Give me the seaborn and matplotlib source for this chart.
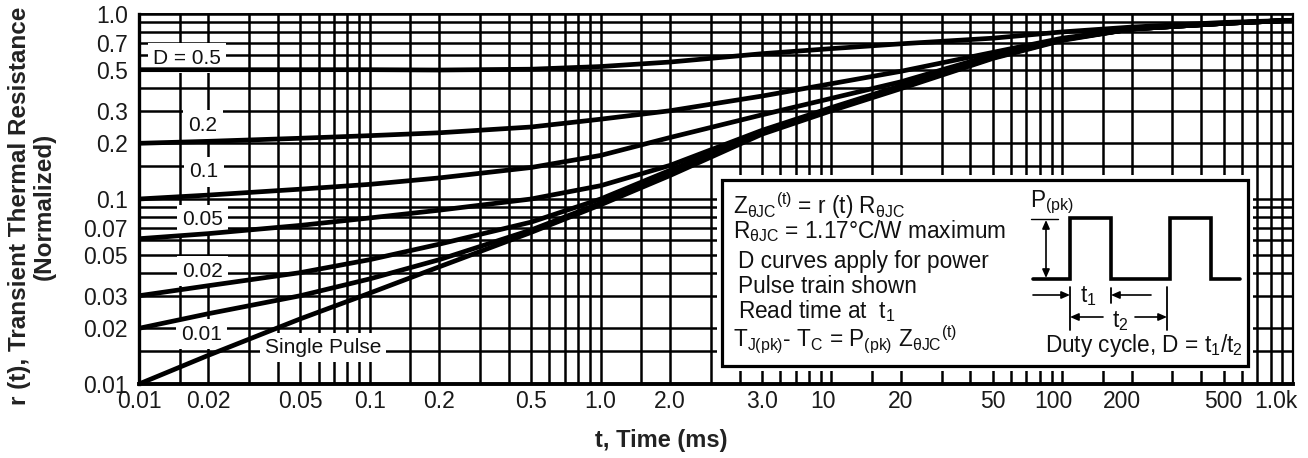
import numpy as np
import pandas as pd
import matplotlib
matplotlib.use("Agg")
import matplotlib.pyplot as plt
import matplotlib.transforms as mtransforms
import seaborn as sns
from matplotlib.patches import Rectangle
from matplotlib.ticker import FixedLocator, NullFormatter, FixedFormatter

# ---------------- data ----------------
time_ms = [0.01, 0.02, 0.05, 0.1, 0.2, 0.5, 1, 2, 5, 10, 20, 50, 100, 200, 500, 1000]
r_d050 = [0.50, 0.50, 0.50, 0.50, 0.498, 0.503, 0.52, 0.55, 0.61, 0.65, 0.69, 0.74, 0.80, 0.85, 0.90, 0.925]
r_d020 = [0.20, 0.205, 0.213, 0.22, 0.228, 0.245, 0.27, 0.30, 0.36, 0.42, 0.49, 0.62, 0.74, 0.83, 0.89, 0.925]
r_d010 = [0.10, 0.105, 0.113, 0.12, 0.13, 0.148, 0.172, 0.215, 0.285, 0.35, 0.43, 0.60, 0.73, 0.83, 0.89, 0.925]
r_d005 = [0.061, 0.065, 0.072, 0.079, 0.087, 0.10, 0.118, 0.152, 0.235, 0.312, 0.41, 0.59, 0.73, 0.83, 0.89, 0.925]
r_d002 = [0.030, 0.034, 0.040, 0.047, 0.057, 0.075, 0.100, 0.143, 0.232, 0.308, 0.405, 0.585, 0.73, 0.83, 0.89, 0.925]
r_d001 = [0.020, 0.024, 0.030, 0.037, 0.047, 0.068, 0.095, 0.138, 0.228, 0.304, 0.40, 0.58, 0.725, 0.83, 0.89, 0.925]
r_single = [0.010, 0.0143, 0.0225, 0.031, 0.043, 0.066, 0.093, 0.134, 0.224, 0.30, 0.395, 0.575, 0.72, 0.83, 0.89, 0.925]

curve_names = ["D = 0.5", "0.2", "0.1", "0.05", "0.02", "0.01", "Single Pulse"]
curve_values = [r_d050, r_d020, r_d010, r_d005, r_d002, r_d001, r_single]

x_tick_values = [0.01, 0.02, 0.05, 0.1, 0.2, 0.5, 1, 2, 5, 10, 20, 50, 100, 200, 500, 1000]
x_tick_labels = ["0.01", "0.02", "0.05", "0.1", "0.2", "0.5", "1.0", "2.0", "3.0",
                 "10", "20", "50", "100", "200", "500", "1.0k"]
y_tick_values = [0.01, 0.02, 0.03, 0.05, 0.07, 0.1, 0.2, 0.3, 0.5, 0.7, 1.0]
y_tick_labels = ["0.01", "0.02", "0.03", "0.05", "0.07", "0.1", "0.2", "0.3", "0.5", "0.7", "1.0"]

grid_mult = [1, 1.5, 2, 3, 4, 5, 6, 7, 8, 9]

# label anchor positions (data coords) for curve names
label_pos = {"D = 0.5": (0.0161, 0.578), "0.2": (0.0189, 0.251), "0.1": (0.0191, 0.140),
             "0.05": (0.0188, 0.077), "0.02": (0.0189, 0.0408), "0.01": (0.0187, 0.0186),
             "Single Pulse": (0.0627, 0.0157)}

# horizontal nudges (px) of some x tick labels, as printed in the reference
x_label_nudge = {"10": -8, "100": -9, "200": -10, "1.0k": -17}

# ---------------- style ----------------
sns.set_style("white")
plt.rcParams["font.family"] = ["Liberation Sans", "DejaVu Sans"]
plt.rcParams["mathtext.fontset"] = "custom"
plt.rcParams["mathtext.rm"] = "Liberation Sans"
plt.rcParams["mathtext.it"] = "Liberation Sans"
plt.rcParams["mathtext.bf"] = "Liberation Sans:bold"

W, H = 1308, 458
L, R, T, B = 139, 1293, 14, 384
fig = plt.figure(figsize=(W / 100, H / 100), dpi=100)
ax = fig.add_axes([L / W, (H - B) / H, (R - L) / W, (B - T) / H])
ax.set_xscale("log")
ax.set_yscale("log")

rows = []
for name, vals in zip(curve_names, curve_values):
    for t, r in zip(time_ms, vals):
        rows.append({"t": t, "r": r, "curve": name})
df = pd.DataFrame(rows)

sns.lineplot(data=df, x="t", y="r", hue="curve", palette={n: "black" for n in curve_names},
             estimator=None, sort=True, legend=False, lw=3.4, ax=ax)
for ln in ax.lines:
    ln.set_zorder(3)
    ln.set_solid_capstyle("butt")

ax.set_xlim(0.01, 1000)
ax.set_ylim(0.01, 1.0)

grid_x = [m * 10.0 ** k for k in range(-2, 3) for m in grid_mult] + [1000]
grid_y = [m * 10.0 ** k for k in (-2, -1) for m in grid_mult] + [1.0]
ax.xaxis.set_major_locator(FixedLocator(x_tick_values))
ax.xaxis.set_major_formatter(FixedFormatter(x_tick_labels))
ax.xaxis.set_minor_locator(FixedLocator(grid_x))
ax.xaxis.set_minor_formatter(NullFormatter())
ax.yaxis.set_major_locator(FixedLocator(y_tick_values))
ax.yaxis.set_major_formatter(FixedFormatter(y_tick_labels))
ax.yaxis.set_minor_locator(FixedLocator(grid_y))
ax.yaxis.set_minor_formatter(NullFormatter())
ax.grid(which="both", color="black", lw=1.8)
ax.set_axisbelow(True)
ax.tick_params(which="both", length=0)
ax.tick_params(axis="x", pad=4, labelsize=16.5, labelcolor="#1a1a1a")
ax.tick_params(axis="y", pad=8, labelsize=16.5, labelcolor="#1a1a1a")
ax.set_xlabel("")
ax.set_ylabel("")
for side, lw in (("left", 2.4), ("bottom", 2.8), ("top", 1.4), ("right", 1.6)):
    ax.spines[side].set_visible(True)
    ax.spines[side].set_color("black")
    ax.spines[side].set_linewidth(lw)

for lab in ax.get_xticklabels():
    dx = x_label_nudge.get(lab.get_text(), 0)
    if dx:
        lab.set_transform(lab.get_transform() + mtransforms.ScaledTranslation(dx / 100, 0, fig.dpi_scale_trans))

# curve labels
for name in curve_names:
    x, y = label_pos[name]
    ax.text(x, y, name, ha="center", va="center", fontsize=15, color="#111111", zorder=2.5,
            bbox=dict(boxstyle="square,pad=0.25", fc="white", ec="none"))

# ---------------- inset box ----------------
def fx(px):
    return (px - L) / (R - L)

def fy(py):
    return (B - py) / (B - T)

bx0, bx1, by0, by1 = 722, 1248, 180, 366
ax.add_patch(Rectangle((fx(bx0 - 5), fy(by1 + 5)), fx(bx1 + 5) - fx(bx0 - 5), fy(by0 - 5) - fy(by1 + 5),
                       transform=ax.transAxes, fc="white", ec="none", zorder=5))
ax.add_patch(Rectangle((fx(bx0), fy(by1)), fx(bx1) - fx(bx0), fy(by0) - fy(by1),
                       transform=ax.transAxes, fc="white", ec="black", lw=2.3, zorder=6))

tk = dict(transform=ax.transAxes, fontsize=16.3, color="#111111", zorder=7, va="baseline", ha="left")
ax.text(fx(733), fy(214), r"Z$_{\mathregular{θJC}}$$^{\mathregular{(t)}}$ = r (t) R$_{\mathregular{θJC}}$", **tk)
ax.text(fx(733), fy(238), r"R$_{\mathregular{θJC}}$ = 1.17°C/W maximum", **tk)
ax.text(fx(738), fy(268), "D curves apply for power", **tk)
ax.text(fx(738), fy(293), "Pulse train shown", **tk)
ax.text(fx(738), fy(318), r"Read time at  t$_{\mathregular{1}}$", **tk)
ax.text(fx(733), fy(347), r"T$_{\mathregular{J (pk)}}$- T$_{\mathregular{C}}$ = P$_{\mathregular{(pk)}}$ Z$_{\mathregular{θJC}}$$^{\mathregular{(t)}}$", **tk)
ax.text(fx(1030), fy(207), r"P$_{\mathregular{(pk)}}$", **tk)
ax.text(fx(1080), fy(302), r"t$_{\mathregular{1}}$", **tk)
ax.text(fx(1112), fy(327), r"t$_{\mathregular{2}}$", **tk)
tr = dict(tk)
tr["ha"] = "right"
ax.text(fx(1243), fy(352), r"Duty cycle, D = t$_{\mathregular{1}}$/t$_{\mathregular{2}}$", **tr)

# pulse waveform
wave_px = [(1033, 279), (1070, 279), (1070, 218), (1111, 218), (1111, 279), (1170, 279),
           (1170, 218), (1211, 218), (1211, 279), (1240, 279)]
ax.plot([fx(p[0]) for p in wave_px], [fy(p[1]) for p in wave_px], color="black", lw=2.6,
        transform=ax.transAxes, zorder=7, solid_joinstyle="miter")
ax.plot([fx(1031), fx(1058)], [fy(219), fy(219)], color="black", lw=1.0, transform=ax.transAxes, zorder=7)
for xp, y0p, y1p in ((1070, 287, 330), (1111, 288, 303), (1167, 287, 330)):
    ax.plot([fx(xp), fx(xp)], [fy(y0p), fy(y1p)], color="black", lw=1.3, transform=ax.transAxes, zorder=7)

arr = dict(arrowstyle="-|>,head_length=0.5,head_width=0.22", color="black", lw=1.2, shrinkA=0, shrinkB=0)
arr2 = dict(arrowstyle="<|-|>,head_length=0.5,head_width=0.22", color="black", lw=1.2, shrinkA=0, shrinkB=0)
def arrow(x0, y0, x1, y1, style):
    ax.annotate("", xy=(fx(x1), fy(y1)), xytext=(fx(x0), fy(y0)), xycoords="axes fraction",
                textcoords="axes fraction", arrowprops=style, zorder=7)

arrow(1046, 278, 1046, 220, arr2)
arrow(1033, 295, 1070, 295, arr)
arrow(1151, 295, 1111, 295, arr)
arrow(1103, 317, 1070, 317, arr)
arrow(1135, 317, 1167, 317, arr)

# axis titles
fig.text(32 / W, 1 - 206 / H, "r (t), Transient Thermal Resistance\n(Normalized)", rotation=90,
         ha="center", va="center", fontsize=17.5, fontweight="bold", color="#222222",
         multialignment="center", linespacing=1.1)
fig.text(661 / W, 1 - 441 / H, "t, Time (ms)", ha="center", va="center", fontsize=17,
         fontweight="bold", color="#222222")

fig.savefig("out.png", dpi=100, facecolor="white")
